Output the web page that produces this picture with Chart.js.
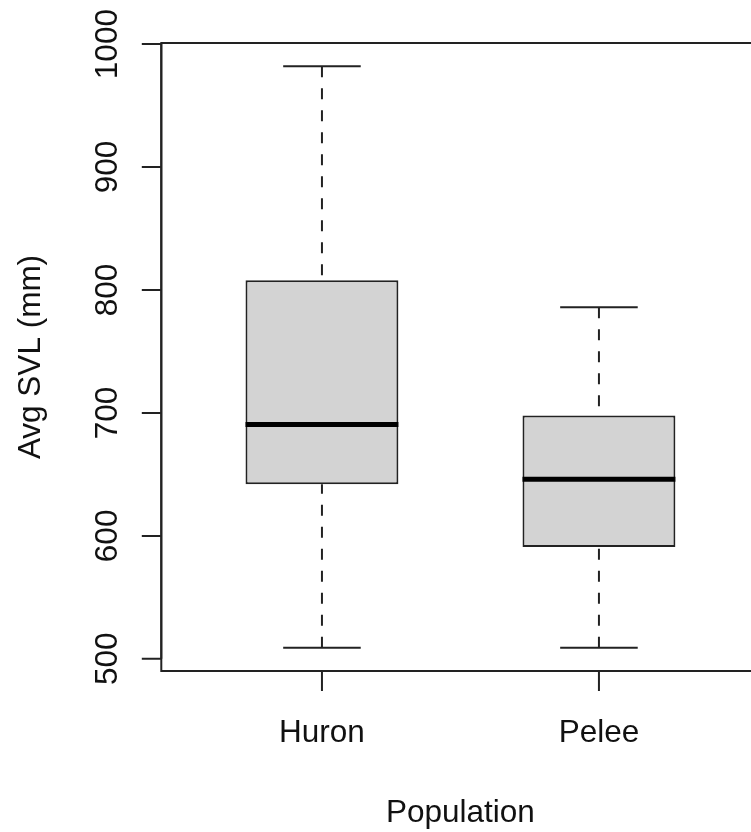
<!DOCTYPE html>
<html>
<head>
<meta charset="utf-8">
<style>
  html, body { margin: 0; padding: 0; overflow: hidden; background: #fff; }
  #wrap { position: absolute; left: 0; top: 0; }
</style>
<script src="https://cdn.jsdelivr.net/npm/chart.js@4.4.1/dist/chart.umd.min.js"></script>
</head>
<body>
<div id="wrap"><canvas id="boxChart" width="762" height="832"></canvas></div>
<script>
// data
const groups = ['Huron', 'Pelee'];
const whiskerLow = [509, 509];
const lowerQuartile = [642, 591];
const medians = [690.5, 646];
const upperQuartile = [808, 698];
const whiskerHigh = [982, 786];
const yTicks = [500, 600, 700, 800, 900, 1000];

const BOX_HALF = 0.276;
const CAP_HALF = 0.14;
const LINE = '#222';
const FONT = '31.5px "Liberation Sans", Arial, sans-serif';

document.addEventListener('DOMContentLoaded', function () {
  const ctx = document.getElementById('boxChart').getContext('2d');
  const xs = groups.map((g, i) => i + 1);

  const datasets = [];

  // boxes as floating bars
  datasets.push({
    type: 'bar',
    data: xs.map((x, i) => ({ x: x, y: [lowerQuartile[i], upperQuartile[i]] })),
    backgroundColor: '#d3d3d3',
    borderColor: LINE,
    borderWidth: 2,
    borderSkipped: false,
    categoryPercentage: 1,
    barPercentage: BOX_HALF * 2,
    order: 10,
  });

  xs.forEach((x, i) => {
    const line = (pts, extra) => Object.assign({
      type: 'line',
      data: pts,
      borderColor: LINE,
      borderWidth: 2,
      pointRadius: 0,
      fill: false,
      order: 1,
    }, extra || {});

    // whiskers, drawn from the ends toward the box
    datasets.push(line([{ x: x, y: whiskerHigh[i] }, { x: x, y: upperQuartile[i] }], { borderDash: [11, 11] }));
    datasets.push(line([{ x: x, y: whiskerLow[i] }, { x: x, y: lowerQuartile[i] }], { borderDash: [11, 11] }));
    // staples
    datasets.push(line([{ x: x - CAP_HALF, y: whiskerHigh[i] }, { x: x + CAP_HALF, y: whiskerHigh[i] }]));
    datasets.push(line([{ x: x - CAP_HALF, y: whiskerLow[i] }, { x: x + CAP_HALF, y: whiskerLow[i] }]));
    // median
    datasets.push(line([{ x: x - BOX_HALF, y: medians[i] }, { x: x + BOX_HALF, y: medians[i] }],
      { borderColor: '#000', borderWidth: 5, borderCapStyle: 'butt', order: 0 }));
  });

  // R-style frame, ticks and labels
  const rAxes = {
    id: 'rAxes',
    afterDraw(chart) {
      const c = chart.ctx;
      const a = chart.chartArea;
      const xs_ = chart.scales.x;
      const ys_ = chart.scales.y;
      c.save();
      c.strokeStyle = LINE;
      c.lineWidth = 2;
      c.strokeRect(a.left, a.top, a.right - a.left, a.bottom - a.top);

      // y axis
      c.beginPath();
      c.moveTo(a.left, ys_.getPixelForValue(yTicks[0]));
      c.lineTo(a.left, ys_.getPixelForValue(yTicks[yTicks.length - 1]));
      yTicks.forEach(v => {
        const py = ys_.getPixelForValue(v);
        c.moveTo(a.left, py);
        c.lineTo(a.left - 19.5, py);
      });
      // x axis
      c.moveTo(xs_.getPixelForValue(xs[0]), a.bottom);
      c.lineTo(xs_.getPixelForValue(xs[xs.length - 1]), a.bottom);
      xs.forEach(v => {
        const px = xs_.getPixelForValue(v);
        c.moveTo(px, a.bottom);
        c.lineTo(px, a.bottom + 20);
      });
      c.stroke();

      c.fillStyle = '#111';
      c.font = FONT;
      c.textAlign = 'center';
      c.textBaseline = 'alphabetic';
      yTicks.forEach(v => {
        c.save();
        c.translate(117, ys_.getPixelForValue(v));
        c.rotate(-Math.PI / 2);
        c.fillText(String(v), 0, 0);
        c.restore();
      });
      xs.forEach((v, i) => {
        c.fillText(groups[i], xs_.getPixelForValue(v), 742);
      });
      c.fillText('Population', (a.left + a.right) / 2, 822);
      c.save();
      c.translate(40, (a.top + a.bottom) / 2);
      c.rotate(-Math.PI / 2);
      c.fillText('Avg SVL (mm)', 0, 0);
      c.restore();
      c.restore();
    }
  };

  new Chart(ctx, {
    type: 'bar',
    data: { datasets: datasets },
    options: {
      responsive: false,
      animation: false,
      layout: { padding: { left: 161.3, right: 2.4, top: 43, bottom: 161 } },
      scales: {
        x: {
          type: 'linear',
          display: false,
          offset: false,
          min: 0.42,
          max: 2.58,
          afterBuildTicks(scale) { scale.ticks = xs.map(v => ({ value: v })); },
        },
        y: {
          type: 'linear',
          display: false,
          min: 490.1,
          max: 1000.9,
        },
      },
      plugins: {
        legend: { display: false },
        tooltip: { enabled: false },
      },
    },
    plugins: [rAxes],
  });
});
</script>
</body>
</html>
